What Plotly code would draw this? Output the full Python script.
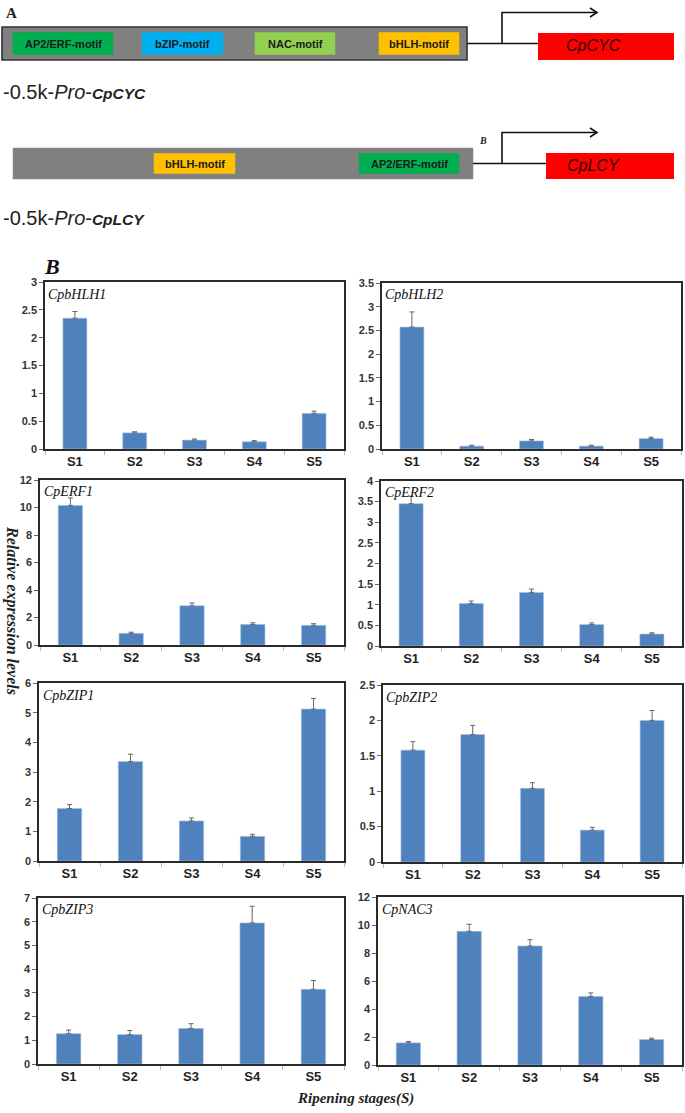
import plotly.graph_objects as go

W, H = 685, 1113

# ---------------- data ----------------
stages = ["S1", "S2", "S3", "S4", "S5"]

cpbhlh1 = [2.35, 0.29, 0.16, 0.13, 0.64]
cpbhlh1_err = [0.12, 0.02, 0.02, 0.02, 0.04]
cpbhlh2 = [2.57, 0.06, 0.17, 0.06, 0.22]
cpbhlh2_err = [0.32, 0.02, 0.03, 0.02, 0.03]
cperf1 = [10.15, 0.85, 2.85, 1.50, 1.43]
cperf1_err = [0.55, 0.08, 0.20, 0.12, 0.12]
cperf2 = [3.45, 1.03, 1.30, 0.52, 0.29]
cperf2_err = [0.18, 0.06, 0.08, 0.04, 0.03]
cpbzip1 = [1.77, 3.35, 1.35, 0.83, 5.12]
cpbzip1_err = [0.13, 0.25, 0.10, 0.07, 0.36]
cpbzip2 = [1.58, 1.80, 1.04, 0.45, 2.00]
cpbzip2_err = [0.12, 0.13, 0.08, 0.04, 0.14]
cpbzip3 = [1.28, 1.24, 1.50, 5.95, 3.15]
cpbzip3_err = [0.15, 0.17, 0.20, 0.70, 0.37]
cpnac3 = [1.58, 9.55, 8.50, 4.90, 1.82]
cpnac3_err = [0.10, 0.50, 0.45, 0.25, 0.10]

gene_names = ["CpbHLH1", "CpbHLH2", "CpERF1", "CpERF2",
              "CpbZIP1", "CpbZIP2", "CpbZIP3", "CpNAC3"]
gene_values = [cpbhlh1, cpbhlh2, cperf1, cperf2, cpbzip1, cpbzip2, cpbzip3, cpnac3]
gene_errors = [cpbhlh1_err, cpbhlh2_err, cperf1_err, cperf2_err,
               cpbzip1_err, cpbzip2_err, cpbzip3_err, cpnac3_err]
y_max = [3, 3.5, 12, 4, 6, 2.5, 7, 12]
y_step = [0.5, 0.5, 2, 0.5, 1, 0.5, 1, 2]

# promoter diagrams (schematic units along the diagram axis)
prom1_motifs = ["AP2/ERF-motif", "bZIP-motif", "NAC-motif", "bHLH-motif"]
prom1_start = [13, 142, 255, 379]
prom1_end = [113, 223, 335, 459]
prom2_motifs = ["bHLH-motif", "AP2/ERF-motif"]
prom2_start = [154, 359]
prom2_end = [235, 459]
motif_colors = {"AP2/ERF-motif": "#00B050", "bZIP-motif": "#00B0F0",
                "NAC-motif": "#92D050", "bHLH-motif": "#FFC000"}

# ---------------- layout geometry (pixels) ----------------
boxes = [(45, 344, 282, 449), (382, 681, 283, 449),
         (40, 344, 480, 645), (381, 682, 481, 646),
         (39, 344, 683, 861), (383, 682, 685, 862),
         (38, 344, 898, 1064), (378, 682, 897, 1065)]

fig = go.Figure()
layout = dict(width=W, height=H, margin=dict(l=0, r=0, t=0, b=0, pad=0, autoexpand=False),
              paper_bgcolor="white", plot_bgcolor="white", showlegend=False,
              template="none")
annotations = []
shapes = []

for i, (name, vals, errs) in enumerate(zip(gene_names, gene_values, gene_errors)):
    n = i + 1
    sx = "" if n == 1 else str(n)
    l, r, t, b = boxes[i]
    fig.add_trace(go.Bar(
        x=stages, y=vals, xaxis="x" + sx, yaxis="y" + sx, width=0.4,
        marker=dict(color="#4F81BD", line=dict(color="#A9C1E2", width=0.6)),
        error_y=dict(type="data", symmetric=False, array=errs,
                     arrayminus=[0] * len(errs), color="#666",
                     thickness=1, width=2.5)))
    layout["xaxis" + sx] = dict(
        domain=[l / W, r / W], anchor="y" + sx, type="category", automargin=False,
        showline=True, mirror=True, linecolor="#2a2a2a", linewidth=1.6,
        ticks="outside", tickson="boundaries", ticklen=4, tickcolor="#bbbbbb",
        tickfont=dict(family="Arial", size=13, color="#222", weight="bold"),
        showgrid=False, zeroline=False, fixedrange=True)
    layout["yaxis" + sx] = dict(
        domain=[1 - b / H, 1 - t / H], anchor="x" + sx, automargin=False,
        range=[0, y_max[i]], dtick=y_step[i], tick0=0,
        showline=True, mirror=True, linecolor="#2a2a2a", linewidth=1.6,
        ticks="outside", ticklen=4, tickcolor="#666",
        tickfont=dict(family="Arial", size=11, color="#333", weight="bold"),
        showgrid=False, zeroline=False, fixedrange=True)
    annotations.append(dict(
        xref="x%s domain" % sx, yref="y%s domain" % sx, x=0.005, y=0.985,
        xanchor="left", yanchor="top", showarrow=False,
        text="<i>%s</i>" % name,
        font=dict(family="Liberation Serif", size=14, color="#111")))

# ---------------- diagram axis ----------------
DH = 235
layout["xaxis9"] = dict(domain=[0, 1], range=[0, W], visible=False, automargin=False,
                        anchor="y9", fixedrange=True)
layout["yaxis9"] = dict(domain=[1 - DH / H, 1], range=[DH, 0], visible=False,
                        automargin=False, anchor="x9", fixedrange=True)
ref = dict(xref="x9", yref="y9")


def promoter(x0, x1, ytop, ybot, border, starts, ends, names, red_x0, gene, label_y):
    ymid = (ytop + ybot) / 2
    shapes.append(dict(type="rect", x0=x0, x1=x1, y0=ytop, y1=ybot,
                       fillcolor="#808080",
                       line=dict(color="#333" if border else "#8a8a8a",
                                 width=1.6 if border else 0.5), **ref))
    for s, e, nm in zip(starts, ends, names):
        shapes.append(dict(type="rect", x0=s, x1=e, y0=ytop + 5.5, y1=ybot - 5.5,
                           fillcolor=motif_colors[nm],
                           line=dict(color=motif_colors[nm], width=0.5), **ref))
        annotations.append(dict(x=(s + e) / 2, y=ymid + 0.5, text="<b>%s</b>" % nm,
                                showarrow=False, xanchor="center", yanchor="middle",
                                font=dict(family="Arial", size=11, color="#1a1a1a"), **ref))
    shapes.append(dict(type="line", x0=x1, x1=red_x0, y0=ymid, y1=ymid,
                       line=dict(color="#111", width=1.6), **ref))
    shapes.append(dict(type="path",
                       path="M502,%g L502,%g L597,%g" % (ymid, ymid - 31, ymid - 31),
                       line=dict(color="#111", width=1.6), **ref))
    shapes.append(dict(type="path",
                       path="M590,%g L597,%g L590,%g" % (ymid - 35.5, ymid - 31, ymid - 26.5),
                       line=dict(color="#111", width=1.6), **ref))
    shapes.append(dict(type="rect", x0=red_x0, x1=674, y0=ytop + (6 if border else 5),
                       y1=ybot, fillcolor="#FF0000", line=dict(width=0), **ref))
    annotations.append(dict(x=593, y=ymid + 2, text="<i>%s</i>" % gene,
                            showarrow=False, xanchor="center", yanchor="middle",
                            font=dict(family="Arial", size=16, color="#2a0000"), **ref))
    annotations.append(dict(x=1, y=label_y, xanchor="left", yanchor="middle", showarrow=False,
                            text="-0.5k-<i>Pro</i>-<b><i><span style='font-size:15.5px'>%s</span></i></b>" % gene,
                            font=dict(family="Arial", size=20, color="#222"), **ref))


promoter(2, 467, 27, 60, True, prom1_start, prom1_end, prom1_motifs, 538, "CpCYC", 92)
promoter(13, 473, 148, 179, False, prom2_start, prom2_end, prom2_motifs, 546, "CpLCY", 218)

annotations.append(dict(x=4, y=13, xanchor="left", yanchor="middle", text="<b>A</b>",
                        showarrow=False,
                        font=dict(family="Liberation Serif", size=15, color="#222"), **ref))
annotations.append(dict(x=483, y=140, xanchor="center", yanchor="middle",
                        text="<b><i>B</i></b>", showarrow=False,
                        font=dict(family="Liberation Serif", size=10, color="#222"), **ref))

# panel B labels (paper coords)
annotations.append(dict(xref="paper", yref="paper", x=52 / W, y=1 - 267 / H,
                        xanchor="center", yanchor="middle",
                        text="<b><i>B</i></b>", showarrow=False,
                        font=dict(family="Liberation Serif", size=22, color="#111")))
annotations.append(dict(xref="paper", yref="paper", x=12 / W, y=1 - 610 / H,
                        xanchor="center", yanchor="middle",
                        text="<b><i>Relative expression levels</i></b>", showarrow=False,
                        textangle=90,
                        font=dict(family="Liberation Serif", size=16, color="#222")))
annotations.append(dict(xref="paper", yref="paper", x=355 / W, y=1 - 1098 / H,
                        xanchor="center", yanchor="middle",
                        text="<b><i>Ripening stages(S)</i></b>", showarrow=False,
                        font=dict(family="Liberation Serif", size=15, color="#222")))

layout["annotations"] = annotations
layout["shapes"] = shapes
fig.update_layout(**layout)
fig.write_html("out.html", config={"displayModeBar": False},
               post_script="document.body.style.margin='0';document.body.style.overflow='hidden';")
